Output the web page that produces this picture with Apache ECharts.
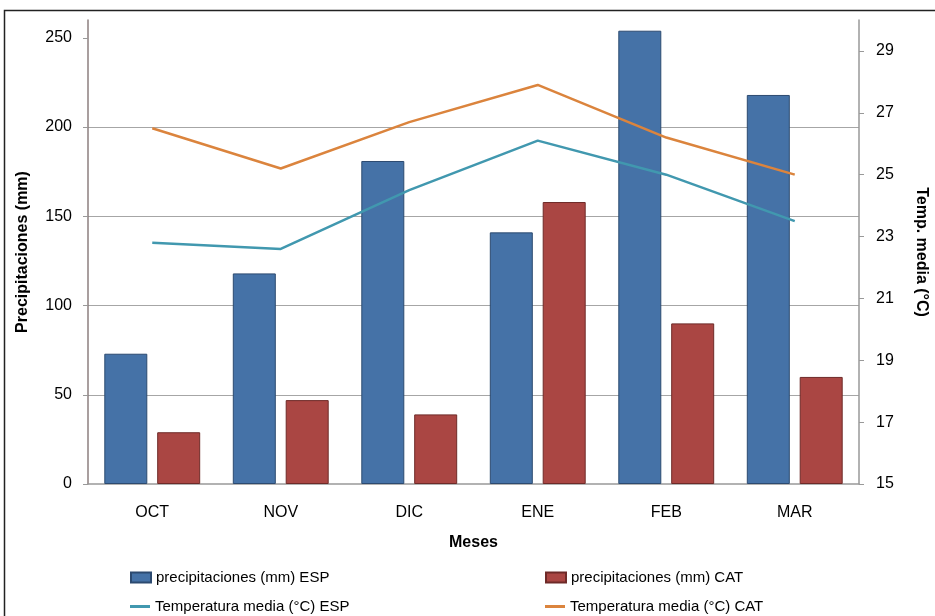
<!DOCTYPE html>
<html>
<head>
<meta charset="utf-8">
<script src="https://cdn.jsdelivr.net/npm/echarts@6/dist/echarts.min.js"></script>
<style>
  html, body { margin: 0; padding: 0; background: #fff; }
  #chart { width: 935px; height: 616px; }
</style>
</head>
<body>
<div id="chart"></div>
<script>
var months = ['OCT', 'NOV', 'DIC', 'ENE', 'FEB', 'MAR'];
var precipESP = [73, 118, 181, 141, 254, 218];
var precipCAT = [29, 47, 39, 158, 90, 60];
var tempESP = [22.8, 22.6, 24.5, 26.1, 25.0, 23.5];
var tempCAT = [26.5, 25.2, 26.7, 27.9, 26.2, 25.0];
var precipTicks = [0, 50, 100, 150, 200, 250];
var tempTicks = [15, 17, 19, 21, 23, 25, 27, 29];

var names = {
  pESP: 'precipitaciones (mm) ESP',
  pCAT: 'precipitaciones (mm) CAT',
  tESP: 'Temperatura media (°C) ESP',
  tCAT: 'Temperatura media (°C) CAT'
};

var font = 'Liberation Sans, Arial, sans-serif';
var chart = echarts.init(document.getElementById('chart'), null, { renderer: 'canvas' });

var legendText = { fontFamily: font, fontSize: 15, color: '#000' };
function leg(name, left, top, isLine) {
  var l = {
    left: left, top: top,
    itemWidth: 20, itemHeight: isLine ? 3 : 10,
    icon: 'rect',
    textStyle: legendText,
    data: [name]
  };
  if (isLine) { l.itemStyle = { borderWidth: 0 }; }
  return l;
}

chart.setOption({
  backgroundColor: '#fff',
  animation: false,
  textStyle: { fontFamily: font },
  graphic: [{
    type: 'rect',
    shape: { x: 4.5, y: 10.5, width: 1000, height: 700 },
    style: { fill: 'none', stroke: '#222', lineWidth: 1.5 },
    silent: true
  }],
  grid: { left: 88, right: 76, top: 20, bottom: 132, containLabel: false, outerBoundsMode: 'none' },
  legend: [
    leg(names.pESP, 125, 565, false),
    leg(names.tESP, 125, 594, true),
    leg(names.pCAT, 540, 565, false),
    leg(names.tCAT, 540, 594, true)
  ],
  xAxis: {
    type: 'category',
    data: months,
    name: 'Meses',
    nameLocation: 'middle',
    nameGap: 51,
    nameTextStyle: { fontFamily: font, fontSize: 16, fontWeight: 'bold', color: '#000' },
    axisLine: { lineStyle: { color: '#999', width: 1.5 } },
    axisTick: { show: false },
    axisLabel: { fontFamily: font, fontSize: 16, color: '#000', margin: 21 }
  },
  yAxis: [{
    type: 'value',
    position: 'left',
    min: 0, max: 260, interval: 50,
    name: 'Precipitaciones (mm)',
    nameLocation: 'middle',
    nameGap: 57,
    nameTextStyle: { fontFamily: font, fontSize: 16, fontWeight: 'bold', color: '#000' },
    axisLine: { show: true, lineStyle: { color: '#8c7f7f', width: 1.5 } },
    axisTick: { show: true, length: 5, lineStyle: { color: '#999' }, customValues: precipTicks },
    axisLabel: { fontFamily: font, fontSize: 16, color: '#000', margin: 16, customValues: precipTicks },
    splitLine: { show: true, showMaxLine: false, showMinLine: false, lineStyle: { color: '#a6a6a6', width: 1.2 } }
  }, {
    type: 'value',
    position: 'right',
    min: 15, max: 30, interval: 2,
    name: 'Temp. media (°C)',
    nameLocation: 'middle',
    nameGap: 54,
    nameRotate: -90,
    nameTextStyle: { fontFamily: font, fontSize: 16, fontWeight: 'bold', color: '#000' },
    axisLine: { show: true, lineStyle: { color: '#999', width: 1.5 } },
    axisTick: { show: true, length: 5, lineStyle: { color: '#999' }, customValues: tempTicks },
    axisLabel: { fontFamily: font, fontSize: 16, color: '#000', margin: 17, customValues: tempTicks },
    splitLine: { show: false }
  }],
  series: [{
    name: names.pESP,
    type: 'bar',
    yAxisIndex: 0,
    data: precipESP,
    barWidth: 43,
    barGap: '23%',
    itemStyle: { color: '#4572a7', borderColor: '#2c4a70', borderWidth: 1 }
  }, {
    name: names.pCAT,
    type: 'bar',
    yAxisIndex: 0,
    data: precipCAT,
    barWidth: 43,
    barGap: '23%',
    itemStyle: { color: '#aa4643', borderColor: '#6e2a28', borderWidth: 1 }
  }, {
    name: names.tESP,
    type: 'line',
    yAxisIndex: 1,
    data: tempESP,
    symbol: 'none',
    lineStyle: { color: '#4198af', width: 2.5 },
    itemStyle: { color: '#4198af' }
  }, {
    name: names.tCAT,
    type: 'line',
    yAxisIndex: 1,
    data: tempCAT,
    symbol: 'none',
    lineStyle: { color: '#db843d', width: 2.5 },
    itemStyle: { color: '#db843d' }
  }]
});
</script>
</body>
</html>
